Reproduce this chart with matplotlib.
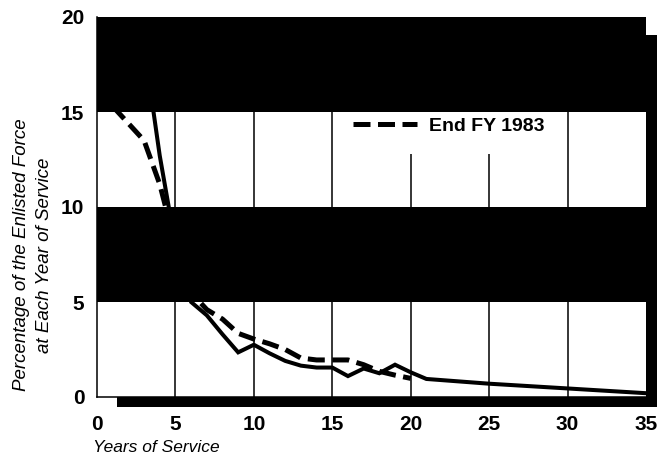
import matplotlib
matplotlib.use("Agg")
import matplotlib.pyplot as plt
from matplotlib.patches import Rectangle

# Data
years_solid = [3, 4, 5, 6, 7, 8, 9, 10, 11, 12, 13, 14, 15, 16, 17, 18, 19, 20, 21, 25, 30, 35]
pct_solid = [18.5, 12.7, 8.0, 5.0, 4.3, 3.3, 2.35, 2.75, 2.3, 1.9, 1.65, 1.55, 1.55, 1.1, 1.5,
             1.25, 1.7, 1.3, 0.95, 0.7, 0.45, 0.2]

years_1983 = [1, 2, 3, 4, 5, 6, 7, 8, 9, 10, 11, 12, 13, 14, 15, 16, 17, 18, 19, 20]
pct_1983 = [15.3, 14.4, 13.5, 11.2, 8.0, 5.5, 4.6, 4.1, 3.35, 3.05, 2.8, 2.5, 2.05, 1.95, 1.95,
            1.95, 1.7, 1.35, 1.15, 0.98]

x_ticks = [0, 5, 10, 15, 20, 25, 30, 35]
y_ticks = [0, 5, 10, 15, 20]
black_bands = [(15, 20), (5, 10)]
legend_label = "End FY 1983"

W, H = 657, 467
fig = plt.figure(figsize=(W / 100, H / 100), dpi=100)
fig.patch.set_facecolor("white")

L, R, B, T = 97, 646, 397, 17
ax = fig.add_axes([L / W, (H - B) / H, (R - L) / W, (B - T) / H])
ax.set_xlim(0, 35)
ax.set_ylim(0, 20)

# gridlines
for xv in x_ticks[1:-1]:
    ax.axvline(xv, color="black", lw=1.1, zorder=0.5)
# mask under legend (gridlines short there)
ax.add_patch(Rectangle((15.6, 12.8), 12.3, 2.3, facecolor="white", edgecolor="none", zorder=0.8))
for lo, hi in black_bands:
    ax.axhspan(lo, hi, color="black", lw=0, zorder=1)

ax.plot(years_solid, pct_solid, color="black", lw=2.9, solid_joinstyle="miter", zorder=3)
ln, = ax.plot(years_1983, pct_1983, color="black", lw=3.6, dashes=(3.4, 1.5),
              dash_capstyle="butt", zorder=3, label=legend_label)

bold_font = ["Liberation Sans Narrow", "Liberation Sans", "DejaVu Sans"]
leg = ax.legend(handles=[ln], loc="center left",
                bbox_to_anchor=((353 - L) / (R - L), (B - 126) / (B - T)),
                frameon=False, handlelength=3.3, handletextpad=0.6, borderaxespad=0, borderpad=0,
                prop={"family": bold_font, "weight": "bold", "size": 14})
leg.set_zorder(5)

for s in ["top", "right"]:
    ax.spines[s].set_visible(False)
for s in ["left", "bottom"]:
    ax.spines[s].set_linewidth(1.1)
    ax.spines[s].set_zorder(4)

ax.set_xticks(x_ticks)
ax.set_yticks(y_ticks)
ax.tick_params(length=0)
ax.tick_params(axis="x", pad=13)
ax.tick_params(axis="y", pad=9)
for lab in ax.get_xticklabels() + ax.get_yticklabels():
    lab.set_fontfamily(bold_font)
    lab.set_fontweight("bold")
    lab.set_fontsize(15)

# drop shadow
fig.add_artist(Rectangle((117 / W, (H - 407) / H), (W - 117) / W, 10 / H,
                         transform=fig.transFigure, facecolor="black", edgecolor="none", zorder=0))
fig.add_artist(Rectangle((R / W, (H - 407) / H), (W - R) / W, (407 - 35) / H,
                         transform=fig.transFigure, facecolor="black", edgecolor="none", zorder=0))

txt_font = ["Liberation Sans", "DejaVu Sans"]
fig.text(22 / W, (H - 255) / H, "Percentage of the Enlisted Force", rotation=90, ha="center", va="center",
         style="italic", fontsize=13.5, family=txt_font)
fig.text(45 / W, (H - 255) / H, "at Each Year of Service", rotation=90, ha="center", va="center",
         style="italic", fontsize=13.5, family=txt_font)
fig.text(93 / W, (H - 448) / H, "Years of Service", ha="left", va="center",
         style="italic", fontsize=12.5, family=txt_font)

fig.savefig("out.png", dpi=100)
